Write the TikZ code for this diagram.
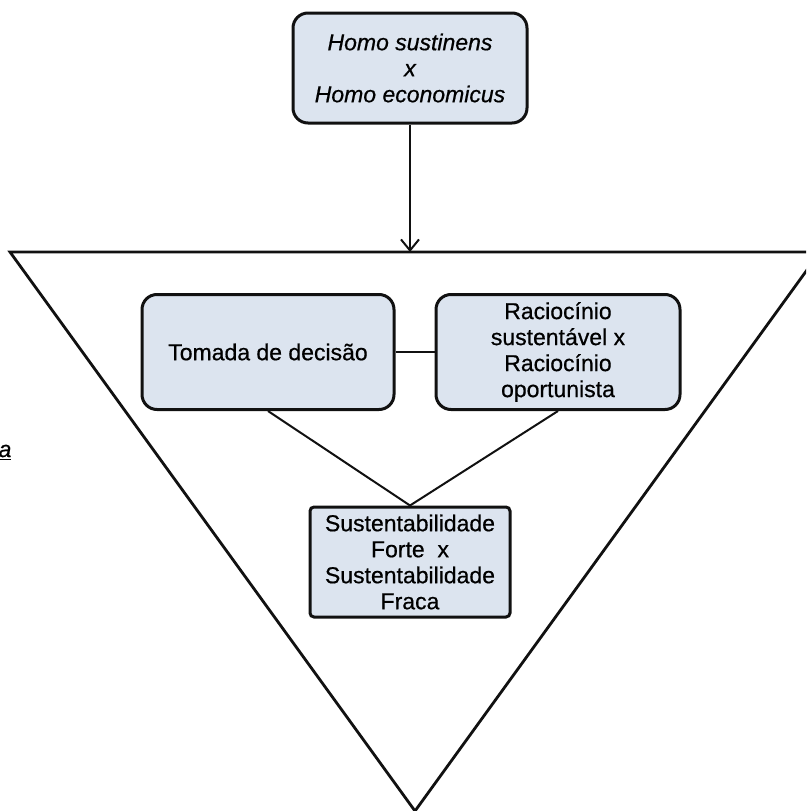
\documentclass[tikz,border=0pt]{standalone}
\usepackage{fontspec}
\setmainfont{Liberation Sans}[FakeBold=0.6]
\usepackage{tikz}
\usetikzlibrary{arrows.meta,positioning}
\definecolor{boxFill}{HTML}{DCE4EF}
\definecolor{boxInk}{HTML}{111111}

\begin{document}
\begin{tikzpicture}[
  x=1pt, y=-1pt,
  font=\fontsize{23}{26}\selectfont,
  block/.style={draw=boxInk, line width=3pt, rounded corners=15pt, fill=boxFill, align=center, inner sep=0pt},
  link/.style={line width=2pt, draw=boxInk},
  arrow/.style={link, -{Straight Barb[length=11pt, width=18pt]}},
  funnel/.style={line width=2.8pt, draw=boxInk}
]
  \useasboundingbox (0,0) rectangle (806,811);
  \clip (0,0) rectangle (806,811);

  \coordinate (tl) at (10,252);
  \coordinate (tr) at (820,252);
  \coordinate (tip) at (415,811);
  \draw[funnel] (tl) -- (tr) -- (tip) -- cycle;

  \node[block, minimum width=234pt, minimum height=110pt, font=\fontsize{23}{26}\selectfont\itshape] (homo) at (410,68) {Homo sustinens\\x\\Homo economicus};
  \node[block, minimum width=252pt, minimum height=115pt] (tomada) at (268,352) {Tomada de decisão};
  \node[block, minimum width=244pt, minimum height=115pt, right=39pt of tomada] (racio) {Raciocínio\\sustentável x\\Raciocínio\\oportunista};
  \node[block, minimum width=200pt, minimum height=110pt, rounded corners=4pt] (forte) at (410,562) {Sustentabilidade\\Forte~ x\\Sustentabilidade\\Fraca};

  \node[font=\fontsize{23}{26}\selectfont\itshape] (frag) at (5,452) {\underline{a}};

  \coordinate (entry) at (homo.south |- tl);
  \draw[arrow] (homo) -- (entry);
  \draw[link] (tomada) -- (racio);
  \draw[link] (tomada.south) -- (forte.north);
  \draw[link] (racio.south) -- (forte.north);
\end{tikzpicture}
\end{document}
